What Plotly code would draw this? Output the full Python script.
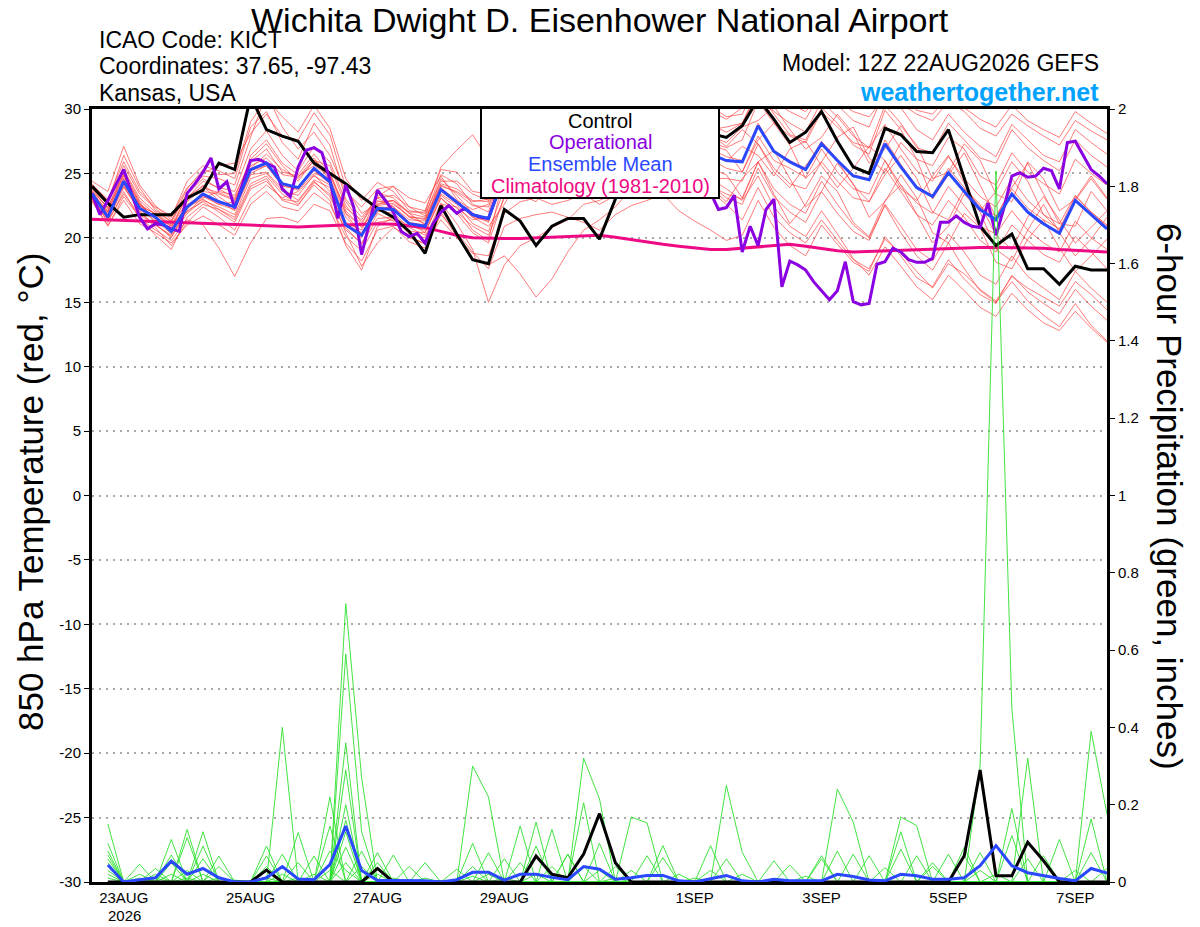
import pandas as pd
import plotly.graph_objects as go

FONT = "Liberation Sans, Arial, Helvetica, sans-serif"
W, H = 1200, 927
# plot area on the page (pixels)
PLOT_L, PLOT_R, PLOT_T, PLOT_B = 92, 1107, 109, 882

# ── Time axes (GEFS 12Z run, 6-hourly; operational 3-hourly) ───────────────
RUN_START = "2026-08-22 12:00"
times = pd.date_range(RUN_START, periods=65, freq="6h")
op_times = pd.date_range(RUN_START, periods=129, freq="3h")
precip_times = times[1:]

tick_dates = ["2026-08-23", "2026-08-25", "2026-08-27", "2026-08-29",
              "2026-09-01", "2026-09-03", "2026-09-05", "2026-09-07"]
tick_text = ["23AUG", "25AUG", "27AUG", "29AUG", "1SEP", "3SEP", "5SEP", "7SEP"]
year_text = "2026"

temp_ticks = [-30, -25, -20, -15, -10, -5, 0, 5, 10, 15, 20, 25, 30]
temp_tick_text = ["-30", "-25", "-20", "-15", "-10", "-5", "0", "5", "10", "15", "20", "25", "30"]

# ── 850 hPa temperature (°C) ───────────────────────────────────────────────
control_t = [24.0, 22.7, 21.6, 21.8, 21.8, 21.8, 23.1, 23.7, 25.8, 25.3,
             31.0, 28.4, 27.9, 27.5, 25.8, 25.0, 24.2, 23.2, 22.3, 21.6,
             20.5, 18.8, 22.5, 20.3, 18.3, 18.0, 22.2, 21.3, 19.4, 20.9,
             21.5, 21.5, 19.9, 23.0, 25.5, 27.0, 28.0, 28.5, 28.8, 28.1,
             27.8, 28.7, 30.8, 29.2, 27.4, 28.2, 29.8, 27.5, 25.5, 25.0,
             28.5, 28.0, 26.7, 26.6, 28.4, 24.6, 20.9, 19.4, 20.3, 17.6,
             17.6, 16.4, 17.8, 17.5, 17.5]

mean_t = [23.45, 21.6, 24.4, 22.3, 21.6, 20.5, 22.4, 23.4, 22.8, 22.4,
          25.3, 25.8, 24.2, 23.9, 25.4, 24.35, 21.0, 20.2, 22.3, 22.2,
          21.1, 20.9, 23.75, 22.8, 21.8, 21.5, 24.8, 25.0, 25.3, 25.5,
          25.8, 26.0, 25.8, 26.0, 26.3, 26.5, 26.8, 27.0, 26.8, 26.5,
          26.0, 25.9, 28.7, 26.7, 25.9, 25.3, 27.3, 26.0, 24.8, 24.5,
          27.3, 25.5, 23.9, 23.2, 25.05, 23.6, 22.2, 21.4, 23.4, 22.0,
          21.1, 20.35, 22.9, 21.8, 20.7]

climo_t = [21.45, 21.4, 21.35, 21.3, 21.25, 21.2, 21.15, 21.1, 21.05, 21.0,
           20.95, 20.9, 20.85, 20.85, 20.9, 20.95, 21.05, 21.1, 21.1, 21.05,
           20.95, 20.8, 20.5, 20.2, 20.0, 19.95, 19.95, 19.95, 20.0, 20.05,
           20.1, 20.15, 20.2, 20.05, 19.85, 19.7, 19.5, 19.35, 19.2, 19.1,
           19.1, 19.2, 19.3, 19.4, 19.5, 19.35, 19.15, 19.0, 18.9, 18.95,
           19.0, 19.05, 19.1, 19.15, 19.2, 19.2, 19.25, 19.25, 19.25, 19.25,
           19.2, 19.1, 19.05, 18.95, 18.9]

operational_t = [23.45, 21.8, 22.9, 24.1, 25.3, 23.45, 21.6, 20.7, 21.1, 21.0,
                 20.7, 20.5, 23.45, 24.2, 25.1, 26.2, 23.8, 24.35, 22.3, 24.2,
                 26.0, 26.1, 25.8, 25.5, 23.8, 23.2, 25.5, 26.8, 27.0, 26.6,
                 24.5, 21.5, 24.1, 22.4, 18.7, 21.2, 23.7, 22.9, 22.0, 20.5,
                 20.1, 20.35, 19.6, 21.1, 22.0, 22.5, 21.9, 22.3, 21.8, 21.6,
                 21.5, 23.3, 24.5, 25.0, 25.5, 26.0, 26.5, 26.0, 26.5, 27.0,
                 27.0, 26.5, 26.0, 26.5, 27.0, 27.5, 27.0, 27.5, 28.0, 28.5,
                 28.0, 29.0, 29.5, 30.5, 29.5, 30.5, 29.0, 26.0, 23.5, 22.2,
                 22.35, 23.3, 18.9, 20.9, 19.4, 22.2, 23.0, 16.2, 18.2, 17.9,
                 17.5, 16.6, 15.9, 15.2, 15.9, 18.15, 15.05, 14.8, 14.9, 17.95,
                 18.15, 19.2, 18.9, 18.3, 18.1, 18.1, 18.4, 21.2, 21.2, 21.7,
                 21.2, 20.9, 20.8, 22.7, 20.2, 22.3, 24.8, 25.05, 24.7, 24.8,
                 25.4, 25.2, 23.8, 27.4, 27.5, 26.4, 25.3, 24.8, 24.2]

member_t01 = [23.8, 22.6, 25.6, 23.4, 22.3, 21.2, 23.5, 24.8, 24.6, 24.1,
              27.8, 31.2, 28.6, 26.9, 28.2, 26.4, 23.6, 22.4, 23.8, 24.0,
              22.4, 21.7, 24.9, 24.2, 22.6, 22.0, 25.8, 26.4, 27.0, 27.2,
              27.9, 28.4, 27.6, 28.1, 28.9, 29.4, 30.2, 30.6, 29.5, 28.8,
              28.2, 28.9, 31.5, 29.6, 28.0, 27.6, 30.1, 28.9, 27.2, 26.5,
              29.9, 28.4, 26.1, 25.6, 27.8, 26.9, 24.8, 24.1, 26.6, 25.1,
              24.2, 23.4, 26.1, 25.0, 24.1]
member_t02 = [23.1, 21.2, 23.6, 21.5, 20.6, 19.8, 21.4, 21.0, 19.2, 17.0,
              19.6, 21.5, 21.6, 21.2, 22.6, 22.1, 19.6, 18.2, 20.6, 20.9,
              19.7, 19.2, 21.8, 20.4, 18.9, 17.6, 20.9, 21.5, 21.8, 22.0,
              21.6, 21.2, 20.6, 21.8, 22.5, 22.9, 23.4, 22.1, 21.3, 20.6,
              19.8, 20.2, 22.9, 20.8, 19.4, 18.6, 21.0, 19.5, 18.1, 17.4,
              20.1, 18.6, 16.9, 16.2, 18.3, 16.8, 15.6, 14.9, 17.1, 15.8,
              14.9, 14.1, 16.0, 14.7, 13.6]
member_t03 = [23.6, 22.0, 25.0, 22.7, 21.4, 20.3, 22.9, 24.1, 23.2, 22.3,
              26.4, 27.6, 25.8, 24.9, 26.5, 25.0, 21.9, 20.2, 22.8, 22.9,
              21.6, 21.1, 24.6, 23.3, 21.9, 21.2, 25.1, 25.9, 26.3, 26.0,
              26.9, 27.4, 26.9, 27.6, 28.3, 27.8, 28.4, 29.1, 28.2, 27.9,
              27.4, 28.6, 29.1, 30.2, 28.4, 26.9, 27.8, 29.6, 28.1, 25.8,
              26.9, 28.7, 27.2, 24.6, 25.1, 27.3, 26.0, 23.4, 22.8, 25.9,
              24.6, 22.1, 23.0, 24.8, 23.1]
member_t04 = [22.9, 20.9, 23.2, 21.6, 20.2, 19.1, 21.6, 22.6, 22.2, 21.4,
              24.0, 24.6, 22.9, 22.5, 24.3, 23.4, 20.4, 17.8, 19.6, 20.8,
              20.1, 19.5, 22.6, 22.4, 20.6, 19.8, 24.9, 23.4, 22.8, 24.9,
              26.4, 25.1, 23.9, 25.6, 27.2, 26.0, 24.9, 26.3, 27.6, 26.1,
              25.4, 25.1, 27.9, 26.0, 25.4, 24.7, 26.9, 25.1, 23.8, 23.4,
              26.0, 24.1, 22.7, 21.9, 24.0, 22.5, 20.9, 20.3, 22.1, 20.6,
              19.6, 18.9, 21.3, 20.0, 19.1]
member_t05 = [24.2, 22.8, 26.4, 23.9, 22.1, 21.6, 24.4, 25.6, 25.2, 24.6,
              28.6, 29.8, 27.4, 26.1, 28.9, 27.2, 23.0, 21.6, 23.1, 22.4,
              21.2, 20.4, 23.1, 21.9, 20.4, 19.6, 23.2, 23.8, 24.1, 24.0,
              24.6, 24.3, 23.6, 24.1, 24.9, 25.3, 25.2, 25.6, 24.8, 24.1,
              23.1, 22.6, 25.4, 23.2, 22.0, 21.2, 23.6, 21.9, 20.5, 19.8,
              22.6, 20.9, 19.1, 18.2, 20.3, 18.9, 17.1, 16.4, 18.6, 17.0,
              16.1, 15.2, 17.4, 16.1, 15.0]
member_t06 = [23.4, 22.1, 24.6, 22.5, 21.9, 21.1, 22.0, 23.1, 23.6, 23.3,
              25.9, 26.9, 25.1, 24.8, 25.6, 24.8, 22.3, 21.4, 23.1, 23.3,
              22.4, 22.1, 25.3, 25.1, 23.6, 23.4, 26.5, 27.2, 27.9, 28.2,
              28.6, 29.4, 29.0, 29.2, 29.8, 30.4, 30.9, 31.3, 30.6, 30.2,
              29.4, 29.6, 32.1, 30.6, 29.8, 29.2, 31.4, 30.3, 29.1, 28.6,
              31.4, 30.1, 28.4, 27.6, 29.6, 28.2, 27.1, 26.3, 28.8, 27.6,
              26.4, 25.9, 28.4, 27.4, 26.5]
member_t07 = [23.0, 21.5, 24.0, 22.0, 21.0, 20.1, 21.9, 22.9, 22.4, 21.8,
              24.6, 25.0, 23.6, 23.3, 24.9, 23.6, 20.8, 19.5, 21.5, 21.6,
              20.3, 20.0, 22.7, 21.1, 19.1, 15.0, 17.9, 19.4, 20.0, 20.8,
              21.4, 22.6, 22.9, 23.6, 24.4, 24.0, 24.8, 25.3, 24.6, 24.0,
              23.4, 23.0, 25.9, 23.8, 22.6, 21.9, 24.4, 22.6, 21.0, 20.0,
              22.5, 20.4, 18.6, 17.5, 19.6, 17.6, 15.9, 15.0, 16.6, 15.1,
              14.0, 13.1, 14.9, 13.2, 12.0]
member_t08 = [23.7, 22.3, 25.2, 22.9, 21.8, 21.0, 23.1, 24.4, 23.9, 23.6,
              26.9, 28.3, 26.4, 25.2, 27.1, 25.9, 22.8, 21.2, 22.9, 22.4,
              21.4, 21.3, 24.1, 23.5, 22.5, 22.4, 25.4, 25.6, 26.1, 25.6,
              26.0, 26.4, 26.3, 26.1, 26.7, 27.1, 27.7, 27.6, 27.9, 27.2,
              26.8, 25.1, 27.6, 28.9, 27.2, 24.6, 25.9, 27.8, 28.6, 26.2,
              25.1, 27.4, 26.1, 23.0, 24.9, 26.6, 24.1, 21.6, 23.9, 25.8,
              23.4, 21.1, 20.9, 23.6, 22.1]
member_t09 = [23.3, 21.9, 24.1, 22.1, 20.8, 19.4, 21.2, 22.4, 21.6, 20.6,
              23.1, 24.1, 23.1, 23.6, 24.8, 24.1, 21.0, 20.0, 22.6, 22.9,
              22.0, 22.0, 25.5, 26.8, 28.0, 26.1, 27.4, 26.6, 26.2, 25.9,
              26.4, 26.3, 25.6, 26.2, 26.1, 26.8, 27.2, 27.4, 27.0, 26.6,
              25.9, 27.1, 26.4, 24.8, 26.9, 27.5, 25.6, 23.9, 25.4, 27.1,
              26.0, 23.8, 22.9, 24.8, 26.4, 24.2, 22.1, 23.6, 25.9, 24.4,
              21.8, 20.6, 22.9, 24.6, 23.0]
member_t10 = [24.4, 23.6, 27.1, 24.1, 22.5, 21.4, 23.2, 24.0, 22.9, 22.1,
              24.9, 25.1, 23.8, 22.9, 24.5, 23.9, 21.2, 20.6, 23.2, 24.0,
              23.1, 22.7, 24.8, 23.0, 21.6, 20.9, 22.6, 24.8, 26.1, 24.9,
              23.4, 24.6, 26.2, 25.4, 23.9, 24.8, 26.6, 25.9, 24.1, 24.6,
              24.6, 24.4, 27.3, 25.4, 24.2, 23.8, 25.9, 24.4, 23.1, 22.8,
              25.4, 23.6, 21.8, 21.0, 22.9, 21.6, 19.8, 18.9, 21.0, 19.8,
              18.7, 18.1, 20.1, 18.9, 17.6]
member_t11 = [23.2, 21.4, 23.9, 22.2, 21.3, 20.6, 22.6, 23.3, 22.6, 22.8,
              25.2, 25.6, 24.1, 23.7, 25.0, 24.6, 21.9, 20.9, 22.1, 21.9,
              20.8, 20.2, 22.0, 20.1, 18.4, 17.9, 18.6, 17.2, 15.4, 16.8,
              18.9, 20.6, 21.4, 22.4, 23.8, 24.2, 24.6, 24.9, 24.2, 23.6,
              22.6, 21.4, 23.9, 21.6, 20.4, 19.6, 21.4, 19.8, 18.3, 17.6,
              19.9, 18.8, 17.4, 16.1, 18.0, 17.2, 16.0, 15.1, 17.0, 16.1,
              15.4, 14.7, 16.6, 15.6, 14.4]
member_t12 = [23.9, 22.9, 25.3, 23.1, 22.0, 21.3, 23.8, 25.3, 24.9, 25.0,
              29.0, 30.8, 29.4, 28.2, 30.3, 28.5, 24.6, 22.9, 24.3, 23.6,
              22.1, 21.9, 24.4, 24.4, 23.4, 22.9, 26.0, 26.8, 27.4, 27.0,
              27.5, 27.8, 27.4, 27.9, 28.4, 28.6, 28.9, 29.4, 29.9, 30.4,
              31.1, 30.6, 32.4, 31.6, 30.9, 30.2, 31.8, 31.2, 30.4, 30.0,
              31.9, 31.0, 29.9, 29.6, 31.0, 30.1, 29.2, 28.6, 30.3, 29.1,
              28.4, 27.8, 29.8, 28.9, 28.1]
member_t13 = [23.5, 21.7, 24.3, 22.6, 21.8, 20.9, 22.4, 23.0, 22.2, 21.6,
              24.2, 24.8, 23.4, 22.6, 24.1, 22.9, 19.4, 17.5, 20.9, 21.6,
              20.9, 20.6, 23.3, 22.3, 21.4, 21.6, 24.6, 25.3, 25.8, 26.3,
              26.8, 27.1, 27.4, 27.8, 28.3, 28.1, 28.6, 29.0, 28.4, 28.0,
              27.1, 28.4, 27.3, 25.1, 23.9, 25.6, 27.3, 26.0, 24.1, 22.8,
              24.9, 26.4, 24.6, 22.0, 21.4, 23.8, 22.6, 20.2, 19.1, 21.6,
              23.2, 21.4, 19.6, 20.8, 22.1]
member_t14 = [23.6, 22.4, 24.9, 22.8, 21.1, 20.0, 22.2, 23.6, 23.4, 22.9,
              25.6, 26.2, 24.9, 24.7, 26.2, 24.4, 21.6, 20.3, 22.0, 22.6,
              21.7, 21.4, 23.9, 22.9, 22.2, 22.6, 25.5, 26.0, 25.9, 26.6,
              27.2, 27.0, 26.4, 26.9, 27.3, 27.9, 28.2, 28.4, 27.6, 27.4,
              27.0, 27.6, 30.6, 28.9, 27.9, 27.4, 29.8, 28.6, 27.4, 27.0,
              30.3, 28.9, 27.0, 26.6, 28.9, 27.6, 26.2, 25.8, 28.4, 27.0,
              26.0, 25.2, 27.6, 26.4, 25.5]
member_t15 = [22.8, 21.0, 22.9, 21.1, 20.4, 19.6, 21.0, 21.7, 21.0, 20.2,
              22.6, 23.6, 22.4, 22.1, 23.5, 22.6, 20.1, 19.0, 21.2, 21.4,
              20.5, 20.4, 23.1, 22.0, 20.9, 20.2, 23.1, 23.7, 23.6, 23.2,
              23.7, 24.4, 24.0, 24.8, 25.2, 25.0, 25.6, 26.1, 25.4, 24.6,
              23.8, 22.9, 24.8, 22.4, 20.9, 20.1, 22.1, 20.3, 18.4, 17.1,
              19.3, 17.8, 16.2, 15.2, 17.1, 15.9, 14.6, 13.9, 15.7, 14.4,
              13.4, 12.8, 14.3, 13.0, 11.9]
member_t16 = [24.1, 23.0, 25.9, 23.6, 22.4, 21.7, 23.9, 25.0, 25.6, 25.8,
              28.1, 29.6, 27.9, 27.6, 29.7, 28.0, 23.9, 21.9, 22.6, 22.9,
              21.9, 21.6, 24.2, 23.8, 22.9, 22.8, 26.4, 27.8, 26.1, 24.6,
              25.9, 27.4, 26.2, 24.9, 26.6, 28.1, 26.8, 25.6, 27.3, 28.4,
              28.6, 28.9, 31.3, 29.8, 28.9, 28.2, 30.6, 29.4, 27.9, 27.0,
              28.8, 26.9, 25.2, 24.4, 26.3, 24.6, 23.2, 22.4, 24.6, 22.9,
              21.8, 21.1, 23.3, 22.0, 20.9]
member_t17 = [23.9, 22.2, 24.8, 22.6, 21.5, 20.7, 23.4, 24.6, 23.8, 23.1,
              26.1, 27.3, 25.6, 24.4, 26.0, 25.6, 22.5, 21.0, 23.5, 23.1,
              21.9, 21.0, 23.4, 22.6, 21.1, 20.5, 23.8, 24.6, 24.9, 25.2,
              25.4, 25.1, 24.4, 24.9, 25.6, 26.0, 26.3, 26.6, 25.9, 25.4,
              24.9, 23.1, 25.9, 26.8, 24.6, 22.4, 23.6, 25.8, 24.2, 21.6,
              22.8, 24.9, 23.1, 20.4, 19.6, 21.9, 20.8, 18.1, 17.6, 19.9,
              21.4, 19.2, 17.4, 18.6, 19.9]
member_t18 = [23.3, 22.0, 24.2, 22.3, 21.6, 20.9, 22.8, 23.9, 23.5, 23.0,
              25.4, 26.5, 25.3, 24.6, 26.0, 25.1, 22.1, 20.8, 22.5, 22.7,
              21.6, 21.5, 24.0, 23.6, 22.8, 23.0, 26.2, 26.9, 27.5, 27.9,
              28.4, 28.9, 28.2, 28.6, 29.3, 29.8, 30.4, 30.9, 30.4, 29.9,
              29.2, 30.1, 31.8, 31.2, 30.4, 29.8, 31.1, 30.6, 29.8, 29.4,
              30.9, 30.4, 29.6, 29.1, 30.6, 29.8, 28.5, 27.9, 29.6, 28.7,
              27.9, 27.2, 29.1, 28.3, 27.6]
member_t19 = [23.0, 21.3, 23.4, 21.8, 21.0, 20.2, 22.1, 22.8, 22.0, 21.2,
              23.8, 24.4, 23.0, 22.8, 24.4, 23.2, 20.6, 19.6, 21.9, 21.3,
              20.0, 19.6, 21.4, 20.0, 18.8, 18.6, 21.9, 22.8, 23.1, 22.6,
              22.9, 23.4, 22.6, 23.3, 24.0, 24.6, 25.1, 25.4, 24.7, 23.9,
              22.8, 24.6, 25.9, 23.4, 21.1, 22.6, 24.8, 23.6, 21.2, 20.1,
              22.9, 24.1, 21.8, 19.6, 20.9, 23.4, 22.0, 19.1, 18.2, 20.6,
              22.6, 20.4, 18.6, 19.9, 21.6]
member_t20 = [23.6, 21.8, 24.6, 22.5, 21.6, 20.5, 22.3, 23.2, 22.6, 22.2,
              25.0, 25.6, 24.0, 23.8, 25.2, 24.2, 21.1, 20.4, 22.4, 22.3,
              21.2, 21.0, 23.6, 22.7, 21.6, 21.3, 24.7, 25.1, 25.4, 25.9,
              26.2, 26.6, 26.1, 26.4, 26.9, 27.2, 27.5, 27.8, 27.3, 26.9,
              26.3, 26.0, 28.9, 26.8, 26.0, 25.4, 27.5, 26.1, 24.9, 24.6,
              27.6, 25.7, 24.0, 23.3, 25.4, 23.9, 22.4, 21.7, 23.8, 22.3,
              21.4, 20.7, 23.2, 22.0, 21.0]

members_t = [member_t01, member_t02, member_t03, member_t04, member_t05,
             member_t06, member_t07, member_t08, member_t09, member_t10,
             member_t11, member_t12, member_t13, member_t14, member_t15,
             member_t16, member_t17, member_t18, member_t19, member_t20]

# ── 6-hour precipitation (inches), valid 22AUG 18Z onward ──────────────────
control_p = [0, 0, 0, 0, 0, 0, 0, 0,
             0, 0, .031, 0, 0, 0, 0, 0,
             0, .035, 0, 0, 0, 0, 0, 0,
             0, 0, 0, .067, .02, .011, .072, .177,
             .05, 0, 0, 0, 0, 0, 0, 0,
             0, 0, 0, 0, 0, 0, 0, 0,
             0, 0, 0, 0, 0, 0, .068, .29,
             .016, .016, .103, .055, 0, 0, 0, 0]

mean_p = [.044, 0, .006, .011, .054, .02, .035, .011,
          0, 0, .011, .04, .008, .006, .045, .145,
          .03, .004, .004, .004, .003, 0, .006, .025,
          .025, .005, .02, .02, .012, .006, .04, .033,
          .007, .011, .017, .017, .003, 0, .009, .017,
          .003, 0, .007, .003, .003, .003, .02, .014,
          .005, .003, .02, .016, .007, .007, .011, .042,
          .094, .042, .024, .016, .009, .003, .035, .023]

member_p01 = [.15, 0, 0, 0, .07, 0, 0, 0,
              0, 0, .093, 0, 0, 0, 0, .29,
              0, 0, 0, .04, 0, 0, 0, 0,
              0, 0, 0, .093, 0, 0, 0, 0,
              0, 0, 0, 0, .02, 0, 0, 0,
              0, 0, 0, 0, 0, 0, 0, 0,
              .068, 0, 0, 0, 0, 0, 0, 0,
              .02, 0, 0, 0, 0, 0, 0, 0]
member_p02 = [.10, 0, .046, 0, 0, .136, 0, 0,
              0, 0, 0, .072, 0, 0, 0, .20,
              0, 0, 0, 0, .01, 0, 0, 0,
              0, 0, 0, 0, .04, 0, 0, 0,
              0, 0, 0, 0, 0, .01, 0, 0,
              0, 0, 0, 0, 0, 0, 0, 0,
              0, .037, 0, 0, 0, 0, 0, 0,
              0, .12, 0, 0, 0, 0, 0, 0]
member_p03 = [.08, 0, 0, .035, 0, 0, .13, 0,
              0, 0, 0, 0, .128, 0, 0, .16,
              0, 0, 0, 0, 0, 0, .033, 0,
              0, 0, 0, 0, 0, .072, 0, 0,
              0, 0, 0, 0, 0, 0, .094, 0,
              0, 0, 0, 0, 0, 0, 0, 0,
              0, 0, .168, .146, 0, 0, 0, 0,
              0, 0, .06, 0, 0, 0, 0, 0]
member_p04 = [.07, 0, 0, 0, .11, 0, 0, .067,
              0, 0, 0, 0, 0, 0, .22, 0,
              .08, 0, 0, 0, 0, 0, 0, .10,
              0, 0, 0, 0, 0, 0, .32, .215,
              0, 0, 0, 0, 0, 0, 0, 0,
              0, 0, 0, 0, 0, 0, 0, 0,
              0, 0, .085, 0, 0, 0, 0, 0,
              0, 0, 0, 0, 0, 0, .163, 0]
member_p05 = [.06, 0, .02, 0, 0, .115, 0, 0,
              0, 0, .067, 0, 0, 0, 0, .13,
              0, 0, 0, 0, 0, 0, 0, .04,
              0, 0, 0, 0, 0, 0, .04, 0,
              0, 0, 0, 0, 0, 0, 0, .25,
              .077, 0, 0, 0, 0, 0, 0, 0,
              0, 0, 0, 0, .04, 0, 0, 0,
              0, 0, 0, 0, 0, 0, .076, 0]
member_p06 = [.05, 0, 0, .02, 0, 0, .093, 0,
              0, 0, 0, 0, 0, 0, .08, .03,
              0, 0, 0, 0, 0, 0, 0, 0,
              .076, 0, 0, 0, 0, 0, 0, .10,
              0, 0, 0, 0, 0, 0, 0, 0,
              0, 0, .055, 0, 0, 0, 0, 0,
              0, 0, 0, 0, 0, 0, .068, 0,
              0, 0, 0, 0, 0, 0, 0, .035]
member_p07 = [.03, 0, 0, 0, .05, 0, 0, 0,
              0, 0, 0, .40, 0, 0, 0, 0,
              .04, 0, 0, 0, 0, 0, 0, 0,
              0, .01, 0, 0, 0, 0, 0, 0,
              .01, 0, 0, 0, 0, 0, 0, 0,
              0, 0, 0, .044, 0, 0, 0, 0,
              0, 0, 0, 0, 0, 0, 0, .30,
              1.84, .45, 0, 0, 0, 0, 0, 0]
member_p08 = [.02, 0, 0, 0, 0, .03, 0, 0,
              0, 0, 0, 0, .05, 0, 0, 0,
              0, .05, 0, 0, 0, 0, 0, 0,
              0, 0, .145, 0, 0, 0, 0, 0,
              0, .03, 0, 0, 0, 0, 0, 0,
              0, 0, 0, 0, .015, 0, 0, 0,
              0, 0, 0, 0, 0, 0, 0, .03,
              0, 0, 0, 0, 0, 0, 0, 0]
member_p09 = [.01, 0, .01, 0, 0, 0, .06, 0,
              0, 0, 0, 0, 0, .067, 0, 0,
              0, 0, .07, 0, 0, 0, 0, 0,
              0, 0, 0, .155, 0, 0, 0, 0,
              0, 0, .068, 0, 0, 0, 0, 0,
              0, 0, 0, 0, 0, .068, 0, 0,
              0, 0, 0, 0, 0, 0, 0, 0,
              0, .19, 0, 0, 0, 0, 0, 0]
member_p10 = [0, 0, 0, .01, 0, 0, 0, .04,
              0, 0, 0, 0, 0, 0, .145, 0,
              0, 0, 0, 0, .05, 0, 0, 0,
              0, 0, 0, 0, .136, 0, 0, 0,
              0, 0, 0, .063, 0, 0, 0, 0,
              0, 0, 0, 0, 0, 0, .24, .155,
              0, 0, 0, 0, 0, 0, 0, 0,
              0, 0, .32, 0, 0, 0, 0, 0]
member_p11 = [0, 0, 0, 0, .02, 0, 0, 0,
              0, 0, .04, 0, 0, 0, 0, .72,
              .27, 0, 0, 0, 0, 0, 0, .015,
              0, 0, 0, 0, 0, .072, 0, 0,
              0, 0, 0, 0, 0, 0, .03, 0,
              0, 0, 0, 0, 0, 0, 0, 0,
              0, 0, .13, 0, 0, 0, 0, 0,
              0, 0, 0, .068, 0, 0, 0, 0]
member_p12 = [0, 0, 0, 0, 0, .01, 0, 0,
              0, 0, 0, .02, 0, 0, 0, .59,
              .13, 0, 0, 0, 0, 0, 0, 0,
              .02, 0, 0, 0, 0, 0, .205, 0,
              0, 0, 0, 0, 0, 0, 0, .06,
              0, 0, 0, 0, 0, 0, 0, 0,
              0, 0, 0, .068, 0, 0, 0, 0,
              0, 0, 0, 0, .11, 0, 0, 0]
member_p13 = [0, 0, 0, 0, 0, 0, .02, 0,
              0, 0, 0, 0, .01, 0, 0, .36,
              0, .076, 0, 0, 0, 0, 0, 0,
              0, 0, 0, .02, 0, 0, 0, .03,
              0, 0, 0, 0, 0, 0, 0, 0,
              .02, 0, 0, 0, 0, 0, 0, 0,
              0, 0, 0, 0, .05, 0, 0, 0,
              0, 0, 0, 0, 0, .03, 0, 0]
member_p14 = [0, 0, 0, 0, 0, 0, 0, .01,
              0, 0, 0, 0, 0, .02, 0, .09,
              0, 0, 0, 0, 0, 0, 0, .30,
              .22, 0, 0, 0, 0, 0, 0, 0,
              .04, 0, 0, 0, 0, 0, 0, 0,
              0, 0, 0, 0, 0, .06, 0, 0,
              0, 0, 0, 0, 0, .072, 0, 0,
              0, 0, 0, 0, 0, 0, .39, .175]
member_p15 = [0, 0, 0, 0, 0, 0, 0, 0,
              .005, 0, 0, 0, 0, 0, .03, 0,
              0, .02, 0, 0, 0, 0, 0, 0,
              0, .06, 0, 0, 0, 0, 0, 0,
              0, .168, .153, 0, 0, 0, 0, 0,
              0, 0, 0, 0, 0, 0, .08, 0,
              0, 0, 0, 0, 0, 0, .09, 0,
              0, 0, 0, 0, 0, 0, 0, 0]
member_p16 = [0, 0, 0, 0, 0, 0, 0, 0,
              0, 0, .01, 0, 0, 0, 0, .05,
              0, 0, .01, 0, 0, 0, 0, 0,
              0, 0, .05, 0, 0, 0, 0, 0,
              0, 0, 0, .094, 0, 0, 0, 0,
              0, 0, 0, 0, 0, 0, 0, .072,
              0, 0, 0, 0, 0, 0, 0, .076,
              0, 0, 0, 0, 0, 0, 0, 0]

members_p = [member_p01, member_p02, member_p03, member_p04, member_p05, member_p06,
             member_p07, member_p08, member_p09, member_p10, member_p11, member_p12,
             member_p13, member_p14, member_p15, member_p16]

for s in members_t + [control_t, mean_t, climo_t]:
    assert len(s) == len(times), len(s)
assert len(operational_t) == len(op_times), len(operational_t)
for s in members_p + [control_p, mean_p]:
    assert len(s) == len(precip_times), len(s)

# ── Colours ────────────────────────────────────────────────────────────────
C_MEMBER_T = "rgba(255,60,60,0.75)"
C_MEMBER_P = "#2ee02e"
C_CONTROL = "#000000"
C_OPER = "#8a00e0"
C_MEAN = "#2a48ff"
C_CLIMO = "#ee0a84"
C_BRAND = "#00a2ff"


def paper(xpx, ypx):
    """page pixel -> paper coords of the plot area"""
    return ((xpx - PLOT_L) / (PLOT_R - PLOT_L), (PLOT_B - ypx) / (PLOT_B - PLOT_T))


def label(xpx, ypx, text, size, color="black", xanchor="center", angle=0, bold=False):
    x, y = paper(xpx, ypx)
    if bold:
        text = f"<b>{text}</b>"
    return dict(x=x, y=y, xref="paper", yref="paper", text=text, showarrow=False,
                xanchor=xanchor, yanchor="middle", textangle=angle,
                font=dict(family=FONT, size=size, color=color))


fig = go.Figure()

for m in members_t:
    fig.add_trace(go.Scatter(x=times, y=m, mode="lines", yaxis="y",
                             line=dict(color=C_MEMBER_T, width=0.9), hoverinfo="skip"))
fig.add_trace(go.Scatter(x=times, y=climo_t, mode="lines", yaxis="y",
                         line=dict(color=C_CLIMO, width=3)))
fig.add_trace(go.Scatter(x=times, y=control_t, mode="lines", yaxis="y",
                         line=dict(color=C_CONTROL, width=3)))
fig.add_trace(go.Scatter(x=op_times, y=operational_t, mode="lines", yaxis="y",
                         line=dict(color=C_OPER, width=3)))
fig.add_trace(go.Scatter(x=times, y=mean_t, mode="lines", yaxis="y",
                         line=dict(color=C_MEAN, width=3)))

for p in members_p:
    fig.add_trace(go.Scatter(x=precip_times, y=p, mode="lines", yaxis="y2",
                             line=dict(color=C_MEMBER_P, width=0.9), hoverinfo="skip"))
fig.add_trace(go.Scatter(x=precip_times, y=control_p, mode="lines", yaxis="y2",
                         line=dict(color=C_CONTROL, width=3)))
fig.add_trace(go.Scatter(x=precip_times, y=mean_p, mode="lines", yaxis="y2",
                         line=dict(color=C_MEAN, width=3)))

tick_font = dict(family=FONT, size=15, color="black")

fig.update_layout(
    width=W, height=H,
    margin=dict(l=PLOT_L, r=W - PLOT_R, t=PLOT_T, b=H - PLOT_B),
    paper_bgcolor="white", plot_bgcolor="white",
    showlegend=False,
    xaxis=dict(type="date", range=[times[0], times[-1]],
               tickvals=pd.to_datetime(tick_dates), ticktext=tick_text,
               showgrid=False, zeroline=False, automargin=False,
               showline=True, linecolor="black", linewidth=3, mirror=True,
               ticks="",
               tickfont=dict(family=FONT, size=15, color="black")),
    yaxis=dict(range=[-30, 30], tickvals=temp_ticks, ticktext=temp_tick_text,
               showgrid=True, gridcolor="#aaaaaa", griddash="2px,5px", gridwidth=1.5,
               zeroline=False, showline=True, linecolor="black", linewidth=3,
               automargin=False, ticks="outside", ticklen=5, tickcolor="black",
               tickfont=tick_font),
    yaxis2=dict(range=[0, 2], dtick=0.2, overlaying="y", side="right",
                showgrid=False, zeroline=False, showline=True, linecolor="black",
                linewidth=3, automargin=False, ticks="outside", ticklen=5,
                tickcolor="black", tickfont=tick_font),
)

# legend box drawn over the lines, like the original
lx0, ly0 = paper(481, 198)
lx1, ly1 = paper(719, 108)
fig.add_shape(type="rect", xref="paper", yref="paper", x0=lx0, y0=ly0, x1=lx1, y1=ly1,
              fillcolor="white", line=dict(color="black", width=2), layer="above")

annotations = [
    label(600, 20, "Wichita Dwight D. Eisenhower National Airport", 34),
    label(97, 40, "ICAO Code: KICT", 23, xanchor="left"),
    label(97, 66, "Coordinates: 37.65, -97.43", 23, xanchor="left"),
    label(97, 93, "Kansas, USA", 23, xanchor="left"),
    label(1101, 63, "Model: 12Z 22AUG2026 GEFS", 23, xanchor="right"),
    label(1101, 92, "weathertogether.net", 25, color=C_BRAND, xanchor="right", bold=True),
    label(600, 121, "Control", 20, color=C_CONTROL),
    label(600, 142, "Operational", 20, color=C_OPER),
    label(600, 164, "Ensemble Mean", 20, color=C_MEAN),
    label(600, 186, "Climatology (1981-2010)", 20, color=C_CLIMO),
    label(30, 492, "850 hPa Temperature (red, °C)", 35, angle=-90),
    label(1170, 496, "6-hour Precipitation (green, inches)", 35, angle=90),
    label(124, 916, year_text, 15),
]
fig.update_layout(annotations=annotations)

# the page's default 8px body margin would shift the whole figure
fig.write_html("out.html", config={"displayModeBar": False},
               post_script="document.body.style.margin = '0';")
